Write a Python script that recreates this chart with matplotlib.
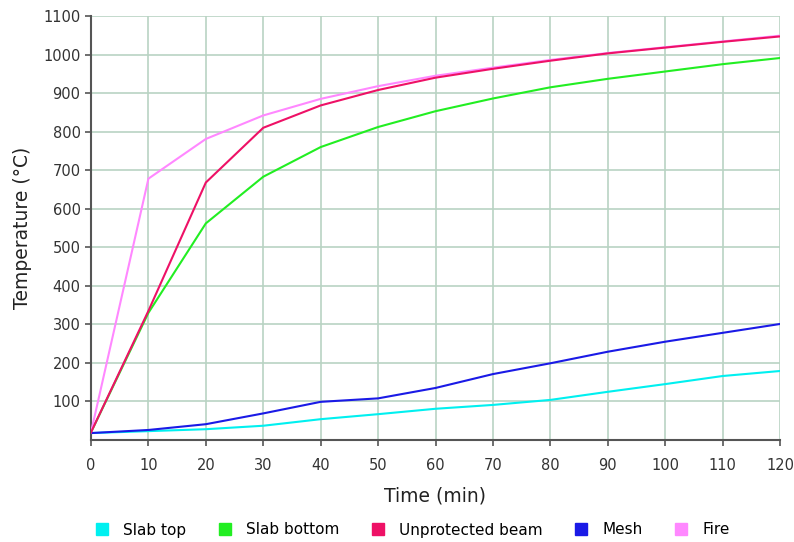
import matplotlib
matplotlib.use("Agg")
import matplotlib.pyplot as plt
from matplotlib.lines import Line2D

time = [0, 10, 20, 30, 40, 50, 60, 70, 80, 90, 100, 110, 120]
slab_top = [18, 23, 28, 37, 54, 67, 81, 91, 104, 125, 145, 166, 179]
slab_bottom = [20, 330, 562, 683, 760, 812, 853, 886, 915, 937, 956, 975, 991]
beam = [20, 335, 668, 810, 868, 908, 940, 963, 984, 1003, 1018, 1033, 1047]
mesh = [18, 26, 41, 69, 99, 108, 135, 171, 199, 229, 255, 278, 301]
fire = [20, 678, 781, 842, 885, 918, 945, 966, 986, 1004, 1019, 1034, 1049]

names = ["Slab top", "Slab bottom", "Unprotected beam", "Mesh", "Fire"]
colors = ["#00f0f0", "#22ee22", "#ee1166", "#1a1ae6", "#ff88ff"]
series = [slab_top, slab_bottom, beam, mesh, fire]
yticks = list(range(100, 1101, 100))
xticks = list(range(0, 121, 10))

plt.rcParams['font.family'] = ['DejaVu Sans']
fig = plt.figure(figsize=(7.94, 5.42), dpi=100)
ax = fig.add_axes([91/794, 1 - 440/542, (780-91)/794, (440-16)/542])

for i in [0, 1, 3, 4, 2]:
    ax.plot(time, series[i], color=colors[i], lw=1.5, zorder=3)

ax.set_xlim(0, 120)
ax.set_ylim(0, 1100)
ax.set_xticks(xticks)
ax.set_yticks(yticks)
ax.grid(True, color="#b9d3c3", lw=1.2, zorder=0)
for s in ["top", "right"]:
    ax.spines[s].set_visible(False)
for s in ["left", "bottom"]:
    ax.spines[s].set_color("#555555")
    ax.spines[s].set_linewidth(1.5)
ax.tick_params(axis="both", colors="#555555", labelcolor="#333333", labelsize=10.5, length=4, width=1.2, direction="out")
ax.tick_params(axis="x", pad=9)
ax.set_xlabel("Time (min)", fontsize=13.5, color="#222222", labelpad=10)
ax.set_ylabel("Temperature (°C)", fontsize=13.5, color="#222222", labelpad=8)

handles = [Line2D([], [], marker="s", linestyle="", color=c, markersize=8) for c in colors]
fig.legend(handles, names, loc="center", bbox_to_anchor=(412/794, 1 - 530/542), ncol=5,
           frameon=False, fontsize=11, handletextpad=0.9, columnspacing=2.0, handlelength=1.0)

fig.savefig("out.png", dpi=100, facecolor="white")
